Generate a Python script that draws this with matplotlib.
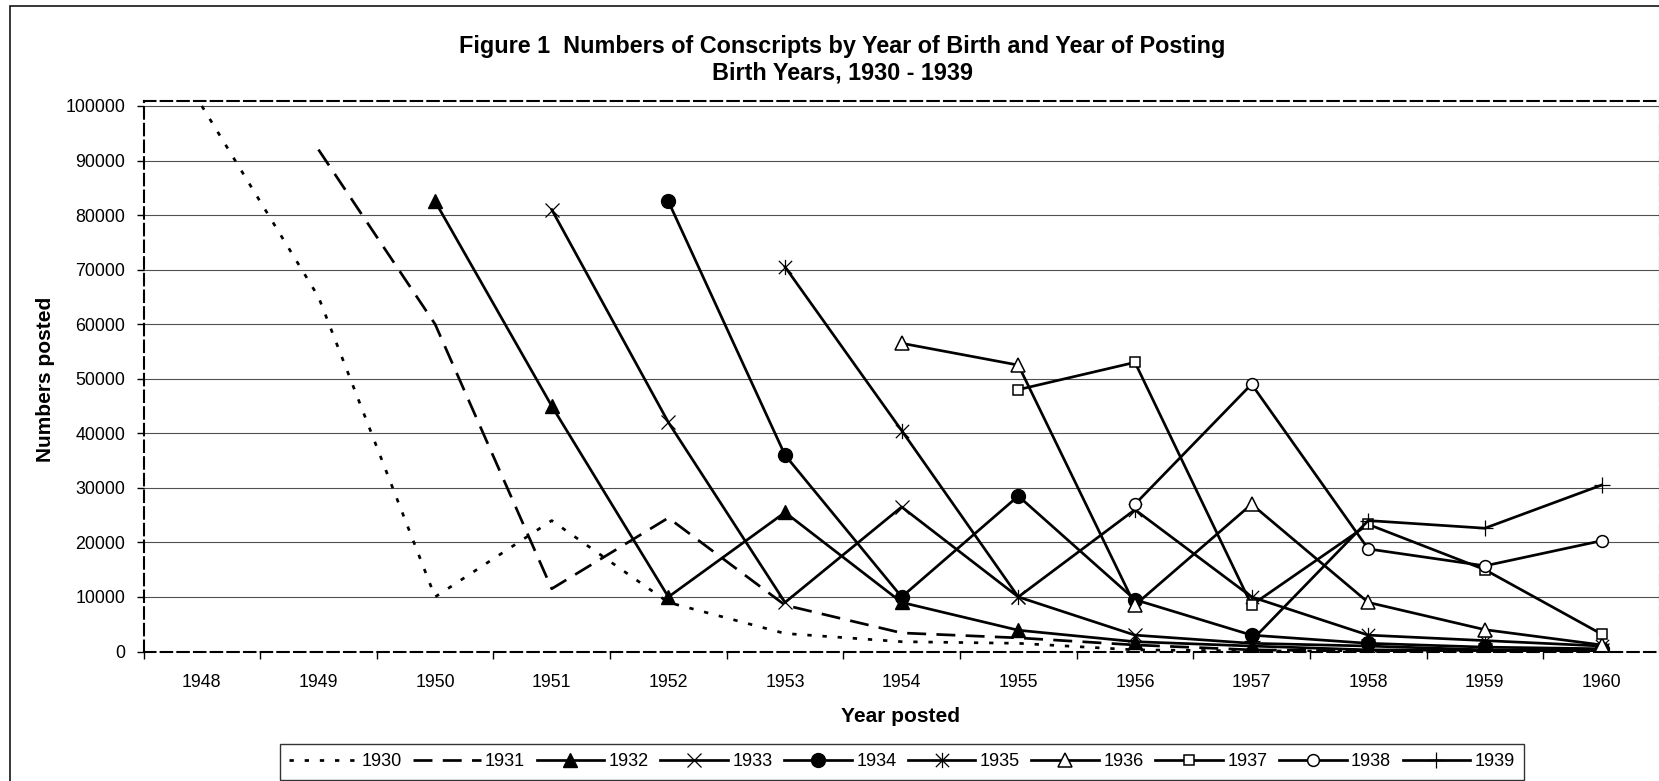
import numpy as np
import matplotlib
matplotlib.use('Agg')
import matplotlib.pyplot as plt
from matplotlib.path import Path
from matplotlib.patches import Rectangle
from matplotlib.ticker import FixedLocator

plt.rcParams['font.family'] = ['Liberation Sans', 'DejaVu Sans']

# data
years_posted = ['1948', '1949', '1950', '1951', '1952', '1953', '1954',
                '1955', '1956', '1957', '1958', '1959', '1960']
birth_years = ['1930', '1931', '1932', '1933', '1934',
               '1935', '1936', '1937', '1938', '1939']
n = np.nan
posted_1930 = [100000, 65000, 10000, 24000, 9000, 3300, 1800, 1500, 300, 100, 50, 20, 10]
posted_1931 = [n, 92000, 60000, 11500, 24500, 8500, 3400, 2500, 1200, 300, 100, 50, 20]
posted_1932 = [n, n, 82500, 45000, 10000, 25500, 9000, 3900, 1800, 1000, 300, 200, 100]
posted_1933 = [n, n, n, 81000, 42000, 9000, 26500, 10000, 3000, 1500, 1000, 300, 200]
posted_1934 = [n, n, n, n, 82500, 36000, 10000, 28500, 9500, 3000, 1500, 800, 500]
posted_1935 = [n, n, n, n, n, 70500, 40500, 10000, 26000, 10000, 3000, 2000, 1000]
posted_1936 = [n, n, n, n, n, n, 56500, 52500, 8500, 27000, 9000, 4000, 1200]
posted_1937 = [n, n, n, n, n, n, n, 48000, 53000, 8500, 23300, 15000, 3200]
posted_1938 = [n, n, n, n, n, n, n, n, 27000, 49000, 18800, 15700, 20300]
posted_1939 = [n, n, n, n, n, n, n, n, n, 2000, 24000, 22600, 30500]

series = [posted_1930, posted_1931, posted_1932, posted_1933, posted_1934,
          posted_1935, posted_1936, posted_1937, posted_1938, posted_1939]

# excel style "x plus vertical bar" star marker
star = Path([(-1, -1), (1, 1), (-1, 1), (1, -1), (0, -1.15), (0, 1.15)],
            [Path.MOVETO, Path.LINETO, Path.MOVETO, Path.LINETO, Path.MOVETO, Path.LINETO])

lw = 1.95
styles = [
    dict(ls=(0, (1.6, 4.0)), marker=None),
    dict(ls=(0, (7.0, 3.8)), marker=None),
    dict(ls='-', marker='^', ms=10, mfc='black', mec='black'),
    dict(ls='-', marker='x', ms=10, mfc='none', mec='black', mew=0.9),
    dict(ls='-', marker='o', ms=10, mfc='black', mec='black'),
    dict(ls='-', marker=star, ms=11, mfc='none', mec='black', mew=0.9),
    dict(ls='-', marker='^', ms=10, mfc='white', mec='black', mew=1.1),
    dict(ls='-', marker='s', ms=7.5, mfc='white', mec='black', mew=1.1),
    dict(ls='-', marker='o', ms=8.5, mfc='white', mec='black', mew=1.1),
    dict(ls='-', marker='+', ms=12, mfc='none', mec='black', mew=0.9),
]

fig = plt.figure(figsize=(16.59, 7.81), dpi=100)
ax = fig.add_axes([143.5 / 1659, 129.5 / 781, 1 - 143.5 / 1659 + 0.0005, 551.0 / 781])

x = np.arange(len(years_posted))
for vals, lab, st in zip(series, birth_years, styles):
    ax.plot(x, vals, color='black', lw=lw, label=lab, dash_capstyle='butt', **st)

ax.set_xlim(-0.5, 12.5)
ax.set_ylim(0, 101000)

ax.yaxis.set_major_locator(FixedLocator(np.arange(0, 100001, 10000)))
ax.set_yticklabels([str(v) for v in range(0, 100001, 10000)])
ax.tick_params(axis='y', direction='out', length=5, width=1, pad=8, labelsize=12.8)

ax.xaxis.set_major_locator(FixedLocator(x))
ax.set_xticklabels(years_posted)
ax.xaxis.set_minor_locator(FixedLocator(np.arange(-0.5, 12.6, 1)))
ax.tick_params(axis='x', which='major', length=0, pad=16, labelsize=12.8)
ax.tick_params(axis='x', which='minor', direction='out', length=5, width=1)

ax.grid(axis='y', color='#505050', lw=0.8)
ax.set_axisbelow(True)

for sp in ax.spines.values():
    sp.set_linewidth(1.5)
    sp.set_linestyle((0, (5.5, 2.5)))
    sp.set_color('black')

fig.text(842 / 1659, 1 - 47 / 781, 'Figure 1  Numbers of Conscripts by Year of Birth and Year of Posting',
         ha='center', va='center', fontsize=16.8, fontweight='bold')
fig.text(842 / 1659, 1 - 73 / 781, 'Birth Years, 1930 - 1939',
         ha='center', va='center', fontsize=16.8, fontweight='bold')
fig.text(901 / 1659, 1 - 716 / 781, 'Year posted', ha='center', va='center',
         fontsize=15, fontweight='bold')
fig.text(46 / 1659, 1 - 379 / 781, 'Numbers posted', ha='center', va='center',
         rotation=90, fontsize=15, fontweight='bold')

leg = fig.legend(loc='center', bbox_to_anchor=(902 / 1659, 1 - 762 / 781), ncol=10,
                 fontsize=13, frameon=True, fancybox=False, handlelength=3.75,
                 handletextpad=0.25, columnspacing=0.63, borderpad=0.5,
                 borderaxespad=0)
leg.get_frame().set_edgecolor('black')
leg.get_frame().set_linewidth(1.0)

# outer chart border, cut off by the picture on the right and bottom
fig.patches.append(Rectangle((10 / 1659, -0.2), 1.5, 1.2 - 6 / 781, transform=fig.transFigure,
                             fill=False, edgecolor='black', lw=1.1))

fig.savefig('out.png', dpi=100)
